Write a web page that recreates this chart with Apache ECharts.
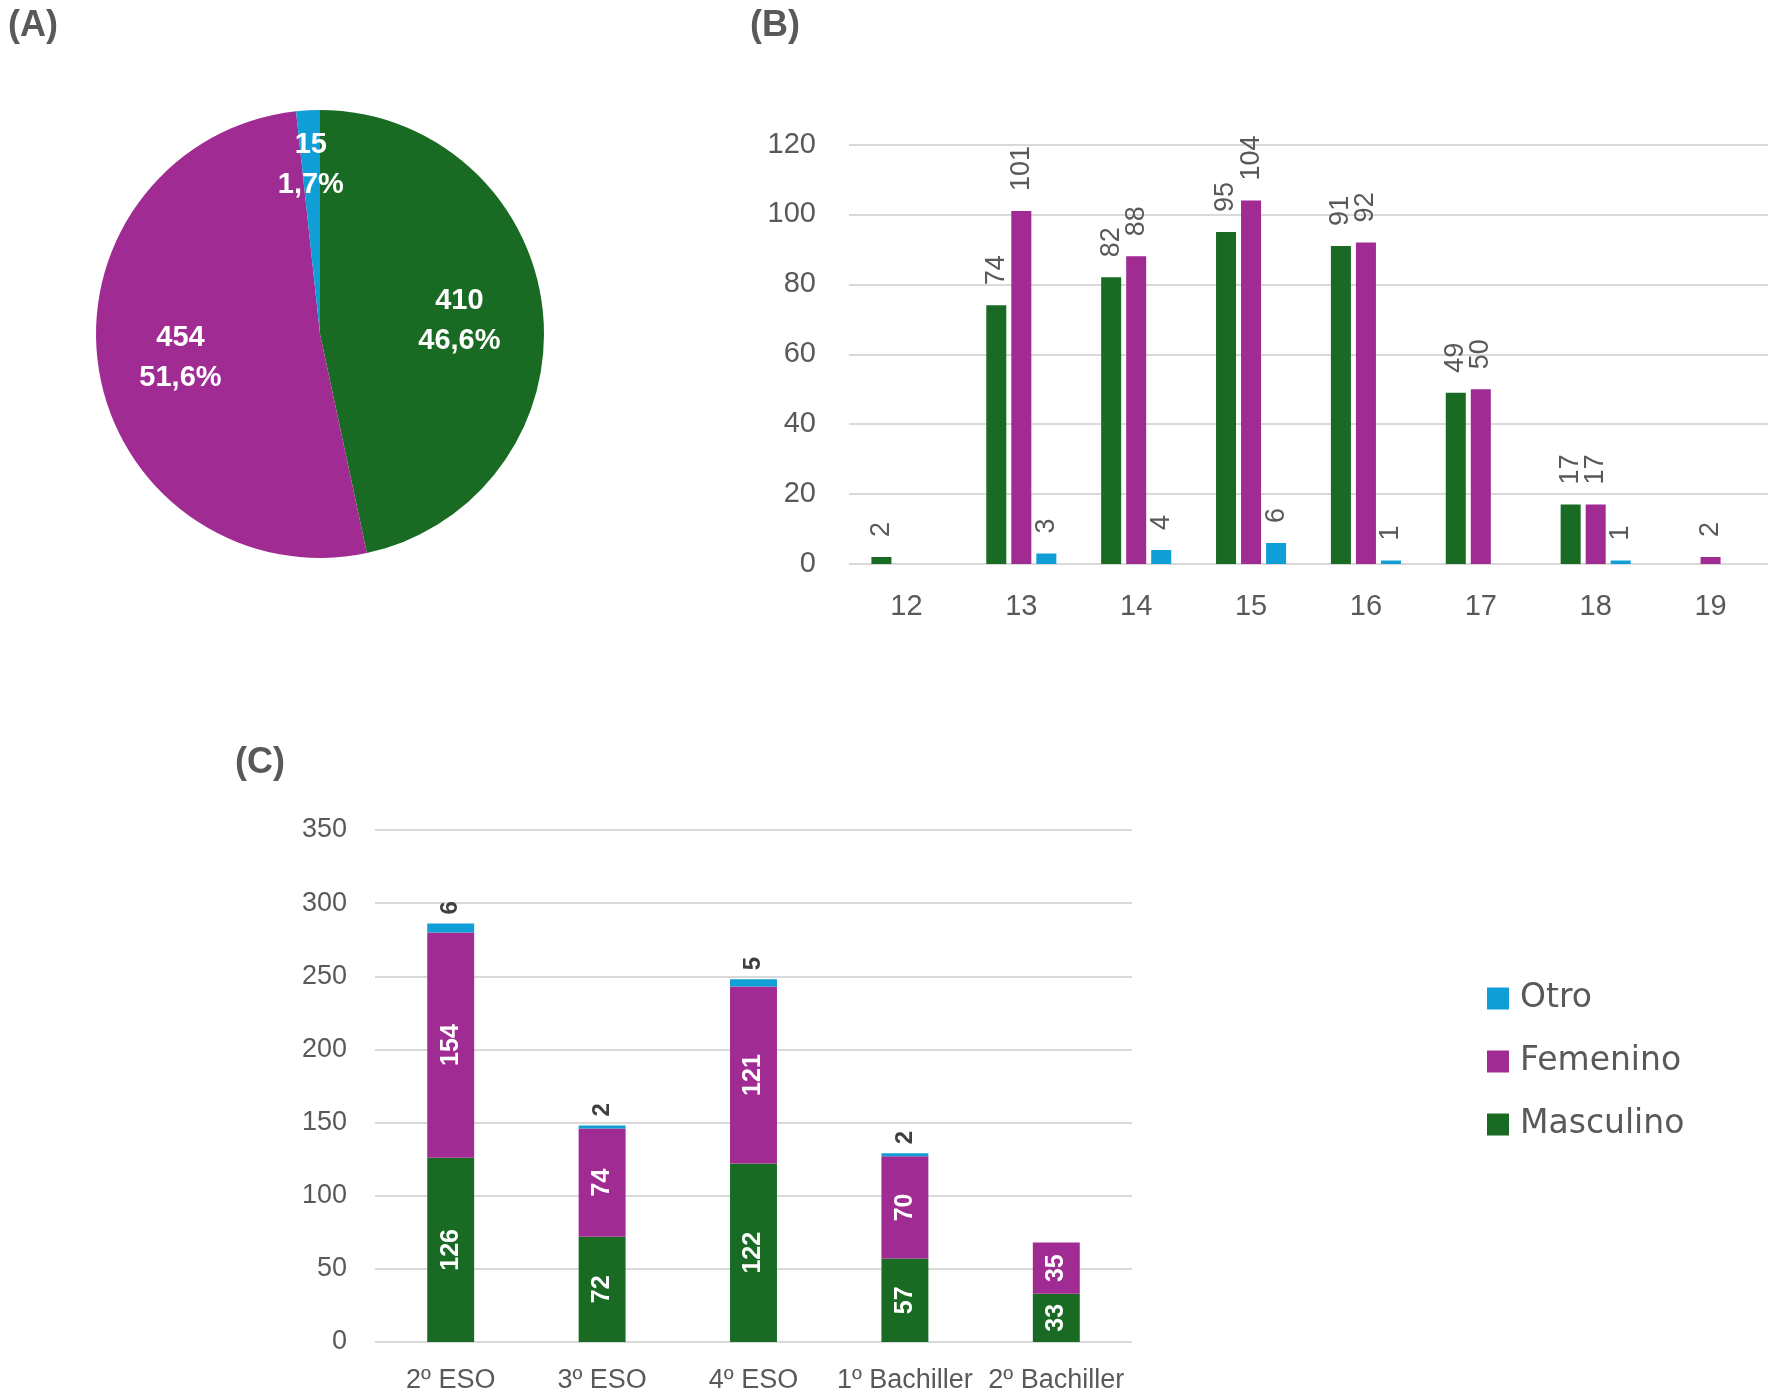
<!DOCTYPE html>
<html>
<head>
<meta charset="utf-8">
<script src="https://cdn.jsdelivr.net/npm/echarts@6/dist/echarts.min.js"></script>
<style>
html,body{margin:0;padding:0;background:#fff;}
#chart{width:1772px;height:1397px;}
</style>
</head>
<body>
<div id="chart"></div>
<script>
// ---- Data ----
const pieNames = ['Masculino', 'Femenino', 'Otro'];
const pieValues = [410, 454, 15];

const ageCategories = ['12', '13', '14', '15', '16', '17', '18', '19'];
const ageMasculino = [2, 74, 82, 95, 91, 49, 17, null];
const ageFemenino = [null, 101, 88, 104, 92, 50, 17, 2];
const ageOtro = [null, 3, 4, 6, 1, null, 1, null];

const courseCategories = ['2º ESO', '3º ESO', '4º ESO', '1º Bachiller', '2º Bachiller'];
const courseMasculino = [126, 72, 122, 57, 33];
const courseFemenino = [154, 74, 121, 70, 35];
const courseOtro = [6, 2, 5, 2, null];

const legendOrder = ['Otro', 'Femenino', 'Masculino'];
const panelLabels = ['(A)', '(B)', '(C)'];

// ---- Styles ----
const COLORS = { Masculino: '#196B24', Femenino: '#A02B93', Otro: '#0F9ED5' };
const FONT = '"Liberation Sans", Arial, sans-serif';
const LEGEND_FONT = '"DejaVu Sans", "Liberation Sans", sans-serif';
const GRAY = '#595959';
const GRID_LINE = '#D9D9D9';

const toBar = arr => arr.map(v => (v === null ? '-' : v));
const total = pieValues.reduce((a, b) => a + b, 0);
const pieLabelOffsets = [[25, -1], [-26, 6], [-3, -54]];

const chart = echarts.init(document.getElementById('chart'), null, { renderer: 'canvas' });

const ageLabel = {
  show: true, position: 'top', rotate: 90, align: 'left', verticalAlign: 'middle',
  distance: 20, fontSize: 27, color: GRAY, fontFamily: FONT
};
const insideLabel = {
  show: true, position: 'inside', rotate: 90, fontSize: 25, fontWeight: 'bold',
  color: '#FFFFFF', fontFamily: FONT
};
const panelTitle = (txt, x, y) => ({
  type: 'text', left: x, top: y,
  style: { text: txt, fontSize: 36, fontWeight: 'bold', fill: GRAY, fontFamily: FONT }
});

const option = {
  animation: false,
  backgroundColor: '#FFFFFF',
  textStyle: { fontFamily: FONT },
  graphic: [
    panelTitle(panelLabels[0], 8, 8),
    panelTitle(panelLabels[1], 750, 8),
    panelTitle(panelLabels[2], 235, 745)
  ],
  legend: {
    data: legendOrder,
    orient: 'vertical',
    left: 1482,
    top: 977,
    icon: 'rect',
    itemWidth: 22,
    itemHeight: 22,
    itemGap: 30,
    textStyle: { fontSize: 33, color: GRAY, fontFamily: LEGEND_FONT, lineHeight: 33, padding: [0, 0, 0, 6] },
    selectedMode: false
  },
  grid: [
    { left: 849, top: 144.5, width: 919, height: 419.5 },
    { left: 375, top: 830, width: 757, height: 512 }
  ],
  xAxis: [
    {
      type: 'category', gridIndex: 0, data: ageCategories,
      axisLine: { show: false }, axisTick: { show: false },
      axisLabel: { fontSize: 29, color: GRAY, margin: 28, fontFamily: FONT }
    },
    {
      type: 'category', gridIndex: 1, data: courseCategories,
      axisLine: { show: false }, axisTick: { show: false },
      axisLabel: { fontSize: 27, color: GRAY, margin: 25, fontFamily: FONT, interval: 0 }
    }
  ],
  yAxis: [
    {
      type: 'value', gridIndex: 0, min: 0, max: 120, interval: 20,
      axisLine: { show: false }, axisTick: { show: false },
      axisLabel: { fontSize: 29, color: GRAY, margin: 33, fontFamily: FONT },
      splitLine: { lineStyle: { color: GRID_LINE, width: 2 } }
    },
    {
      type: 'value', gridIndex: 1, min: 0, max: 350, interval: 50,
      axisLine: { show: false }, axisTick: { show: false },
      axisLabel: { fontSize: 27, color: GRAY, margin: 28, fontFamily: FONT },
      splitLine: { lineStyle: { color: GRID_LINE, width: 2 } }
    }
  ],
  series: [
    {
      type: 'pie',
      name: 'Sexo',
      center: [320, 334],
      radius: 224,
      startAngle: 90,
      clockwise: true,
      avoidLabelOverlap: false,
      labelLine: { show: false },
      emphasis: { disabled: true },
      label: {
        show: true, position: 'inside', fontSize: 29, fontWeight: 'bold', color: '#FFFFFF',
        lineHeight: 40, fontFamily: FONT,
        formatter: p => p.value + '\n' + (p.value / total * 100).toFixed(1).replace('.', ',') + '%'
      },
      data: pieNames.map((n, i) => ({
        name: n, value: pieValues[i],
        itemStyle: { color: COLORS[n] },
        label: { offset: pieLabelOffsets[i] }
      }))
    },
    {
      type: 'bar', name: 'Masculino', xAxisIndex: 0, yAxisIndex: 0,
      data: toBar(ageMasculino), itemStyle: { color: COLORS.Masculino },
      barCategoryGap: '39%', barGap: '25%', label: ageLabel
    },
    {
      type: 'bar', name: 'Femenino', xAxisIndex: 0, yAxisIndex: 0,
      data: toBar(ageFemenino), itemStyle: { color: COLORS.Femenino },
      barCategoryGap: '39%', barGap: '25%', label: ageLabel
    },
    {
      type: 'bar', name: 'Otro', xAxisIndex: 0, yAxisIndex: 0,
      data: toBar(ageOtro), itemStyle: { color: COLORS.Otro },
      barCategoryGap: '39%', barGap: '25%', label: ageLabel
    },
    {
      type: 'bar', name: 'Masculino', xAxisIndex: 1, yAxisIndex: 1, stack: 'curso',
      data: toBar(courseMasculino), itemStyle: { color: COLORS.Masculino },
      barWidth: '31%', label: insideLabel
    },
    {
      type: 'bar', name: 'Femenino', xAxisIndex: 1, yAxisIndex: 1, stack: 'curso',
      data: toBar(courseFemenino), itemStyle: { color: COLORS.Femenino },
      barWidth: '31%', label: insideLabel
    },
    {
      type: 'bar', name: 'Otro', xAxisIndex: 1, yAxisIndex: 1, stack: 'curso',
      data: toBar(courseOtro), itemStyle: { color: COLORS.Otro },
      barWidth: '31%',
      label: {
        show: true, position: 'top', rotate: 90, align: 'left', verticalAlign: 'middle',
        distance: 9, fontSize: 24, fontWeight: 'bold', color: '#404040', fontFamily: FONT
      }
    }
  ]
};
chart.setOption(option);
</script>
</body>
</html>
